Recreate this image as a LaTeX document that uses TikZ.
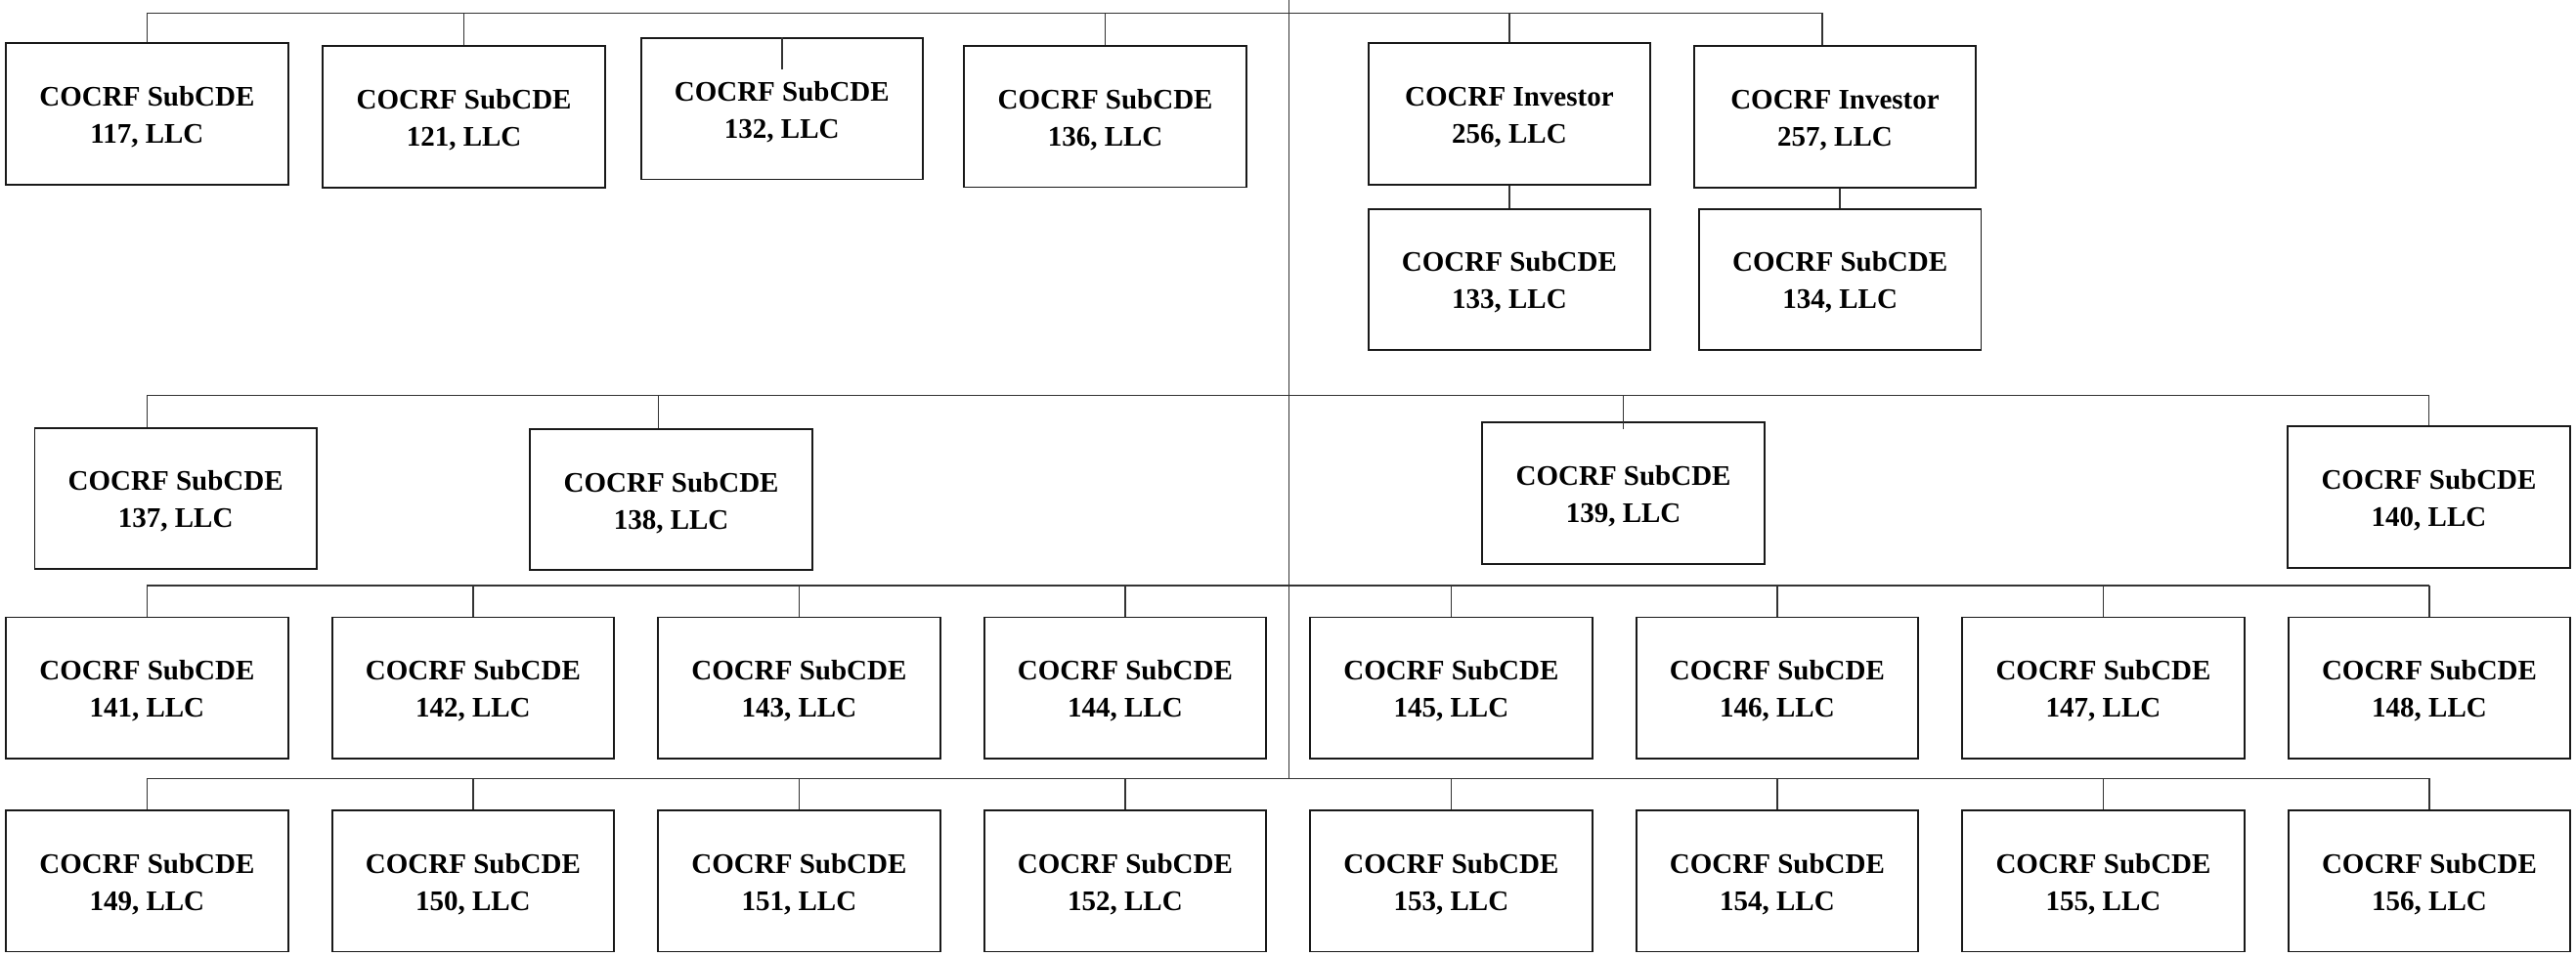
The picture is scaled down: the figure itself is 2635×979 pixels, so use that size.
\documentclass[tikz,border=0pt]{standalone}
\usepackage{fontspec}
\setmainfont{Liberation Serif}
\newcommand\twolines[2]{\raisebox{-3.5pt}[\height][\depth]{\begin{tabular}{@{}c@{}}#1\\#2\end{tabular}}}
\begin{document}
\begin{tikzpicture}[x=1pt,y=-1pt,
  entity/.style={draw=black!90,line width=1.9pt,fill=white,minimum width=288.5pt,minimum height=144.5pt,inner sep=0pt,
    font=\bfseries\fontsize{29}{38}\selectfont},
  wire/.style={draw=black!80,line width=1.6pt}]
\useasboundingbox (0,0) rectangle (2635,979);
% row 1
\node[entity] (n117) at (150.4,116.5) {\twolines{COCRF SubCDE}{117, LLC}};
\node[entity] (n121) at (474.6,119.3) {\twolines{COCRF SubCDE}{121, LLC}};
\node[entity] (n132) at (799.8,111.2) {\twolines{COCRF SubCDE}{132, LLC}};
\node[entity] (n136) at (1130.6,119.2) {\twolines{COCRF SubCDE}{136, LLC}};
\node[entity] (n256) at (1543.9,116.5) {\twolines{COCRF Investor}{256, LLC}};
\node[entity] (n257) at (1877.0,119.3) {\twolines{COCRF Investor}{257, LLC}};
\node[entity] (n133) at (1543.9,285.8) {\twolines{COCRF SubCDE}{133, LLC}};
\node[entity] (n134) at (1882.2,285.8) {\twolines{COCRF SubCDE}{134, LLC}};
% row 3
\node[entity] (n137) at (179.7,509.8) {\twolines{COCRF SubCDE}{137, LLC}};
\node[entity] (n138) at (686.6,511.1) {\twolines{COCRF SubCDE}{138, LLC}};
\node[entity] (n139) at (1660.6,504.6) {\twolines{COCRF SubCDE}{139, LLC}};
\node[entity] (n140) at (2484.5,508.3) {\twolines{COCRF SubCDE}{140, LLC}};
% row 4
\node[entity] (n141) at (150.4,703.7) {\twolines{COCRF SubCDE}{141, LLC}};
\node[entity] (n142) at (483.9,703.7) {\twolines{COCRF SubCDE}{142, LLC}};
\node[entity] (n143) at (817.4,703.7) {\twolines{COCRF SubCDE}{143, LLC}};
\node[entity] (n144) at (1150.9,703.7) {\twolines{COCRF SubCDE}{144, LLC}};
\node[entity] (n145) at (1484.4,703.7) {\twolines{COCRF SubCDE}{145, LLC}};
\node[entity] (n146) at (1817.9,703.7) {\twolines{COCRF SubCDE}{146, LLC}};
\node[entity] (n147) at (2151.5,703.7) {\twolines{COCRF SubCDE}{147, LLC}};
\node[entity] (n148) at (2485.0,703.7) {\twolines{COCRF SubCDE}{148, LLC}};
% row 5
\node[entity] (n149) at (150.4,901.2) {\twolines{COCRF SubCDE}{149, LLC}};
\node[entity] (n150) at (483.9,901.2) {\twolines{COCRF SubCDE}{150, LLC}};
\node[entity] (n151) at (817.4,901.2) {\twolines{COCRF SubCDE}{151, LLC}};
\node[entity] (n152) at (1150.9,901.2) {\twolines{COCRF SubCDE}{152, LLC}};
\node[entity] (n153) at (1484.4,901.2) {\twolines{COCRF SubCDE}{153, LLC}};
\node[entity] (n154) at (1817.9,901.2) {\twolines{COCRF SubCDE}{154, LLC}};
\node[entity] (n155) at (2151.5,901.2) {\twolines{COCRF SubCDE}{155, LLC}};
\node[entity] (n156) at (2485.0,901.2) {\twolines{COCRF SubCDE}{156, LLC}};
% coordinates
\coordinate (top) at (1318.3,0);
\coordinate (hub5) at (1318.3,796.3);
\coordinate (bus1L) at (150.4,13.5);
\coordinate (bus1R) at (1863.8,13.5);
\coordinate (bus3L) at (150.4,404.3);
\coordinate (bus3R) at (2485.0,404.3);
\coordinate (bus4L) at (150.4,599.0);
\coordinate (bus4R) at (2485.0,599.0);
\coordinate (bus5L) at (150.4,796.3);
\coordinate (bus5R) at (2485.0,796.3);
\coordinate (s257) at ([xshift=-13.2pt]n257.north);
\coordinate (s137) at ([xshift=-29.3pt]n137.north);
\coordinate (s138) at ([xshift=-13.2pt]n138.north);
\coordinate (s132) at ([yshift=-32.6pt]n132.north);
\coordinate (s139) at ([yshift=-7.7pt]n139.north);
% connectors
\draw[wire] (top) -- (hub5);
\draw[wire] (bus1L) -- (bus1R);
\draw[wire] (bus3L) -- (bus3R);
\draw[wire] (bus4L) -- (bus4R);
\draw[wire] (bus5L) -- (bus5R);
\draw[wire] (n117.north |- bus1L) -- (n117.north);
\draw[wire] (n121.north |- bus1L) -- (n121.north);
\draw[wire] (s132) -- (n132.north);
\draw[wire] (n136.north |- bus1L) -- (n136.north);
\draw[wire] (n256.north |- bus1L) -- (n256.north);
\draw[wire] (s257 |- bus1L) -- (s257);
\draw[wire] (n256.south) -- (n133.north);
\draw[wire] (n134.north |- n257.south) -- (n134.north);
\draw[wire] (s137 |- bus3L) -- (s137);
\draw[wire] (s138 |- bus3L) -- (s138);
\draw[wire] (n139.north |- bus3L) -- (s139);
\draw[wire] (n140.north |- bus3L) -- (n140.north);
\foreach \n in {141,142,143,144,145,146,147,148}
  \draw[wire] (n\n.north |- bus4L) -- (n\n.north);
\foreach \n in {149,150,151,152,153,154,155,156}
  \draw[wire] (n\n.north |- bus5L) -- (n\n.north);
\end{tikzpicture}
\end{document}
